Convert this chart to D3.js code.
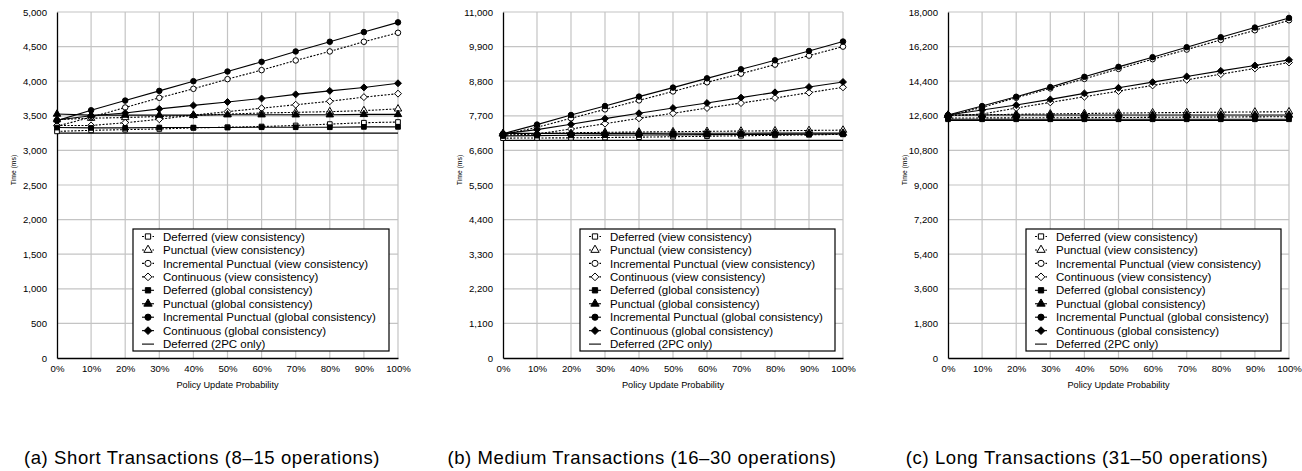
<!DOCTYPE html>
<html><head><meta charset="utf-8">
<script src="https://cdn.jsdelivr.net/npm/d3@7"></script>
<style>
body{margin:0;background:#fff}
svg{display:block}
text{font-family:"Liberation Sans",Arial,Helvetica,sans-serif;fill:#000}
</style>
</head><body>
<svg id="c" width="1302" height="471"></svg>
<script>
// ---------- DATA ----------
const policyProb = [0,10,20,30,40,50,60,70,80,90,100];
const seriesNames = [
  "Deferred (view consistency)",
  "Punctual (view consistency)",
  "Incremental Punctual (view consistency)",
  "Continuous (view consistency)",
  "Deferred (global consistency)",
  "Punctual (global consistency)",
  "Incremental Punctual (global consistency)",
  "Continuous (global consistency)",
  "Deferred (2PC only)"
];
// (a) short transactions
const shortDeferredView   = [3275,3290,3300,3310,3325,3335,3345,3360,3380,3400,3410];
const shortPunctualView   = [3445,3465,3475,3490,3505,3525,3540,3550,3560,3575,3600];
const shortIncPunctView   = [3350,3480,3620,3760,3890,4030,4160,4300,4430,4570,4700];
const shortContinuousView = [3360,3360,3400,3450,3510,3560,3610,3660,3710,3770,3820];
const shortDeferredGlob   = [3330,3325,3325,3330,3330,3330,3335,3335,3335,3340,3340];
const shortPunctualGlob   = [3525,3510,3510,3510,3510,3515,3515,3515,3515,3520,3520];
const shortIncPunctGlob   = [3430,3580,3720,3860,4000,4140,4280,4430,4570,4710,4850];
const shortContinuousGlob = [3440,3500,3540,3600,3650,3700,3750,3810,3860,3910,3970];
const short2PC            = [3250,3250,3250,3250,3250,3250,3250,3250,3250,3250,3250];
// (b) medium transactions
const mediumDeferredView   = [6990,6995,7000,7010,7020,7035,7050,7065,7080,7095,7110];
const mediumPunctualView   = [7120,7140,7160,7175,7185,7195,7205,7215,7225,7235,7245];
const mediumIncPunctView   = [7100,7335,7620,7905,8190,8475,8765,9040,9327,9613,9900];
const mediumContinuousView = [7080,7120,7280,7450,7620,7780,7947,8105,8265,8437,8605];
const mediumDeferredGlob   = [7060,7070,7080,7085,7090,7095,7100,7105,7110,7115,7120];
const mediumPunctualGlob   = [7140,7140,7140,7140,7140,7145,7145,7145,7150,7150,7150];
const mediumIncPunctGlob   = [7130,7420,7725,8010,8310,8596,8890,9178,9464,9760,10060];
const mediumContinuousGlob = [7130,7260,7430,7610,7780,7947,8105,8278,8446,8615,8775];
const medium2PC            = [6920,6920,6920,6920,6920,6920,6920,6920,6920,6920,6920];
// (c) long transactions
const longDeferredView   = [12480,12490,12495,12500,12505,12510,12520,12530,12535,12545,12550];
const longPunctualView   = [12620,12650,12680,12700,12720,12740,12760,12770,12790,12800,12810];
const longIncPunctView   = [12600,13038,13537,14025,14520,15040,15545,16046,16547,17050,17570];
const longContinuousView = [12600,12690,13002,13298,13590,13884,14180,14470,14766,15063,15374];
const longDeferredGlob   = [12420,12420,12420,12420,12420,12420,12420,12420,12420,12420,12420];
const longPunctualGlob   = [12640,12640,12640,12640,12640,12640,12640,12640,12640,12640,12640];
const longIncPunctGlob   = [12640,13106,13590,14092,14627,15146,15650,16168,16687,17190,17690];
const longContinuousGlob = [12640,12898,13158,13453,13765,14056,14350,14647,14938,15218,15510];
const long2PC            = [12364,12364,12364,12364,12364,12364,12364,12364,12364,12364,12364];

const xTickLabels = ["0%","10%","20%","30%","40%","50%","60%","70%","80%","90%","100%"];
const shortYTicks  = [0,500,1000,1500,2000,2500,3000,3500,4000,4500,5000];
const mediumYTicks = [0,1100,2200,3300,4400,5500,6600,7700,8800,9900,11000];
const longYTicks   = [0,1800,3600,5400,7200,9000,10800,12600,14400,16200,18000];
const captions = [
  "(a) Short Transactions (8\u201315 operations)",
  "(b) Medium Transactions (16\u201330 operations)",
  "(c) Long Transactions (31\u201350 operations)"
];
const xTitle = "Policy Update Probability";
const yTitle = "Time (ms)";

// ---------- STYLE / LAYOUT ----------
const diamond = { draw(ctx, size){ const r = Math.sqrt(size/2); ctx.moveTo(0,-r); ctx.lineTo(r,0); ctx.lineTo(0,r); ctx.lineTo(-r,0); ctx.closePath(); } };
const seriesStyle = [
  {sym:d3.symbolSquare,   size:22, fill:"#fff", dash:"2,1.5"},
  {sym:d3.symbolTriangle, size:24, fill:"#fff", dash:"2,1.5"},
  {sym:d3.symbolCircle,   size:24, fill:"#fff", dash:"2,1.5"},
  {sym:diamond,           size:24, fill:"#fff", dash:"2,1.5"},
  {sym:d3.symbolSquare,   size:22, fill:"#000", dash:null},
  {sym:d3.symbolTriangle, size:24, fill:"#000", dash:null},
  {sym:d3.symbolCircle,   size:24, fill:"#000", dash:null},
  {sym:diamond,           size:24, fill:"#000", dash:null},
  {sym:null,              size:0,  fill:"none", dash:null}
];

const panels = [
  {x0:57,  x1:398,  ticks:shortYTicks, max:5000,
   series:[shortDeferredView,shortPunctualView,shortIncPunctView,shortContinuousView,shortDeferredGlob,shortPunctualGlob,shortIncPunctGlob,shortContinuousGlob,short2PC],
   yLabelX:13, capX:202, legend:{x:133,y:229,w:256,h:122}},
  {x0:503, x1:843,  ticks:mediumYTicks, max:11000,
   series:[mediumDeferredView,mediumPunctualView,mediumIncPunctView,mediumContinuousView,mediumDeferredGlob,mediumPunctualGlob,mediumIncPunctGlob,mediumContinuousGlob,medium2PC],
   yLabelX:459, capX:642, legend:{x:580,y:229,w:255,h:122}},
  {x0:948, x1:1289, ticks:longYTicks, max:18000,
   series:[longDeferredView,longPunctualView,longIncPunctView,longContinuousView,longDeferredGlob,longPunctualGlob,longIncPunctGlob,longContinuousGlob,long2PC],
   yLabelX:904, capX:1087, legend:{x:1026,y:229,w:255,h:122}}
];
const yTop = 12, yBot = 358;

const svg = d3.select("#c");
const fmt = d3.format(",");

panels.forEach((p, pi) => {
  const g = svg.append("g");
  const x = d3.scaleLinear().domain([0,100]).range([p.x0, p.x1]);
  const y = d3.scaleLinear().domain([0,p.max]).range([yBot, yTop]);

  // grid
  g.append("g").selectAll("line").data(p.ticks.slice(1)).join("line")
    .attr("x1", p.x0).attr("x2", p.x1).attr("y1", d=>y(d)).attr("y2", d=>y(d))
    .attr("stroke","#c4c4c4").attr("stroke-width",1.2);
  g.append("g").selectAll("line").data(policyProb.slice(1)).join("line")
    .attr("x1", d=>x(d)).attr("x2", d=>x(d)).attr("y1", yTop).attr("y2", yBot)
    .attr("stroke","#c4c4c4").attr("stroke-width",1.2);

  // axes
  const yAxis = d3.axisLeft(y).tickValues(p.ticks).tickFormat(fmt).tickSize(0).tickPadding(10);
  const ya = g.append("g").attr("transform",`translate(${p.x0},0)`).call(yAxis);
  ya.select(".domain").attr("stroke","#000").attr("stroke-width",1.3);
  ya.selectAll("text").attr("font-size","9.6px").attr("fill","#000");

  const xAxis = d3.axisBottom(x).tickValues(policyProb).tickFormat((d,i)=>xTickLabels[i]).tickSize(0).tickPadding(7);
  const xa = g.append("g").attr("transform",`translate(0,${yBot})`).call(xAxis);
  xa.select(".domain").attr("stroke","#000").attr("stroke-width",1.5);
  xa.selectAll("text").attr("font-size","9.6px").attr("fill","#000");

  g.append("text").attr("x",(p.x0+p.x1)/2).attr("y",388).attr("text-anchor","middle")
    .attr("font-size","9.2px").text(xTitle);
  g.append("text").attr("transform",`translate(${p.yLabelX+2.5},170) rotate(-90)`).attr("text-anchor","middle")
    .attr("font-size","6.8px").text(yTitle);

  // series
  const line = d3.line().x((d,i)=>x(policyProb[i])).y(d=>y(d));
  const order = [8,0,1,2,3,4,5,6,7];
  order.forEach(si => {
    const st = seriesStyle[si], vals = p.series[si];
    g.append("path").datum(vals).attr("d", line).attr("fill","none")
      .attr("stroke","#000").attr("stroke-width",1.1)
      .attr("stroke-dasharray", st.dash);
  });
  order.forEach(si => {
    const st = seriesStyle[si], vals = p.series[si];
    if (!st.sym) return;
    const sym = d3.symbol().type(st.sym).size(st.size);
    g.append("g").selectAll("path").data(vals).join("path")
      .attr("transform",(d,i)=>`translate(${x(policyProb[i])},${y(d)})`)
      .attr("d", sym).attr("fill", st.fill).attr("stroke","#000").attr("stroke-width",1);
  });

  // legend
  const L = p.legend;
  const lg = g.append("g");
  lg.append("rect").attr("x",L.x).attr("y",L.y).attr("width",L.w).attr("height",L.h)
    .attr("fill","#fff").attr("stroke","#000").attr("stroke-width",1.2);
  seriesNames.forEach((name, i) => {
    const st = seriesStyle[i];
    const cy = L.y + 7.5 + i*13.45;
    const mx = L.x + 15;
    lg.append("line").attr("x1",mx-6).attr("x2",mx+6).attr("y1",cy).attr("y2",cy)
      .attr("stroke","#000").attr("stroke-width",1.1).attr("stroke-dasharray", st.dash);
    if (st.sym) {
      lg.append("path").attr("transform",`translate(${mx},${cy})`)
        .attr("d", d3.symbol().type(st.sym).size(st.size+6)).attr("fill",st.fill)
        .attr("stroke","#000").attr("stroke-width",1);
    }
    lg.append("text").attr("x", L.x + 30).attr("y", cy).attr("dy","0.36em")
      .attr("font-size","11.5px").text(name);
  });

  // caption
  svg.append("text").attr("x", p.capX).attr("y", 464).attr("text-anchor","middle")
    .attr("font-size","18.5px").attr("letter-spacing","0.6px").text(captions[pi]);
});
</script>
</body></html>
